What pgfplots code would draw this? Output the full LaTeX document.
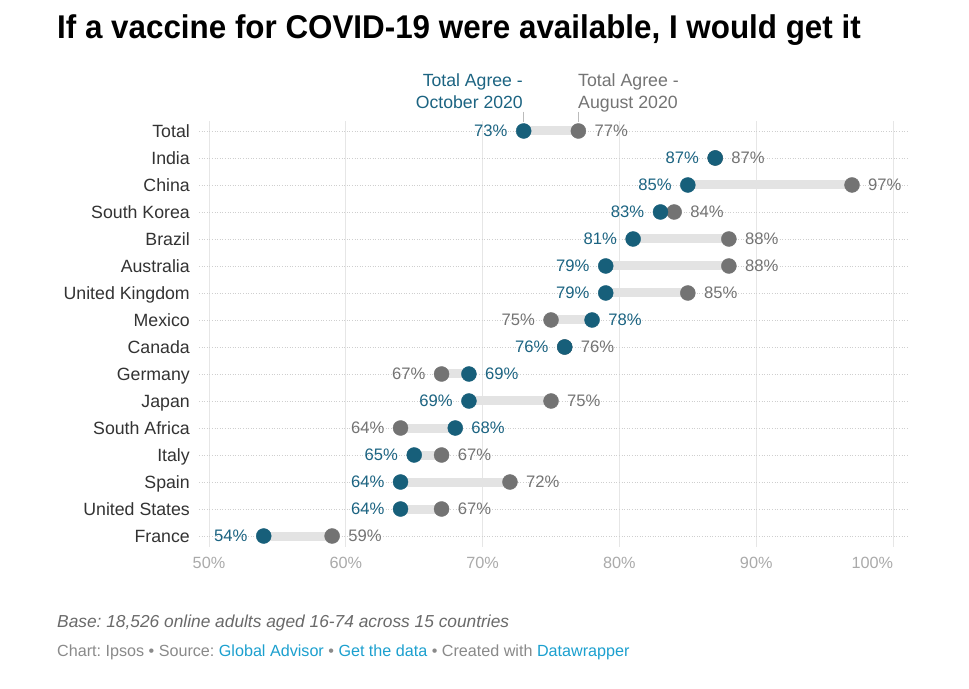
\documentclass[border=0pt]{standalone}
\usepackage{pgfplots}
\pgfplotsset{compat=1.18}
\usepackage{fontspec}
\setmainfont{Liberation Sans}
\frenchspacing
\definecolor{darkc}{HTML}{175F7A}
\definecolor{darklab}{HTML}{1C6482}
\definecolor{greyc}{HTML}{737373}
\definecolor{greylab}{HTML}{747474}
\definecolor{barc}{HTML}{E3E3E3}
\definecolor{vgrid}{HTML}{E6E6E6}
\definecolor{hgrid}{HTML}{CFCFCF}
\definecolor{rowlab}{HTML}{333333}
\definecolor{ticklab}{HTML}{AAAAAA}
\definecolor{foot}{HTML}{6A6A6A}
\definecolor{foot2}{HTML}{8A8A8A}
\definecolor{linkc}{HTML}{1CA0CF}
\definecolor{hdrline}{HTML}{BBBBBB}
\begin{document}
\begin{tikzpicture}
\fill[white] (0,0) rectangle (969bp,689bp);
\begin{axis}[
  at={(199bp,142bp)}, anchor=south west,
  scale only axis, width=708bp, height=426bp,
  xmin=49.27, xmax=101.02,
  ymin=-0.407, ymax=15.37,
  clip=false,
  axis line style={draw=none},
  tick style={draw=none},
  major tick length=0pt,
  xtick={50,60,70,80,90,100},
  xticklabels={50\%,60\%,70\%,80\%,90\%,\llap{100\%}},
  ytick={0,...,15},
  yticklabels={France,United States,Spain,Italy,South Africa,Japan,Germany,Canada,Mexico,United Kingdom,Australia,Brazil,South Korea,China,India,Total},
  xmajorgrids, ymajorgrids,
  x grid style={vgrid, line width=0.8bp},
  y grid style={hgrid, line width=0.6bp, dotted},
  xticklabel style={anchor=base, inner sep=0pt, yshift=-22bp, text=ticklab, font=\fontsize{16.3}{18}\selectfont},
  yticklabel style={anchor=base east, inner sep=0pt, xshift=-9bp, yshift=-6.2bp, text=rowlab, font=\fontsize{17.8}{20}\selectfont},
]
% connecting bars
\addplot[barc, line width=9bp, unbounded coords=jump, forget plot] coordinates {
(73,15) (77,15) (nan,nan)
(85,13) (97,13) (nan,nan)
(83,12) (84,12) (nan,nan)
(81,11) (88,11) (nan,nan)
(79,10) (88,10) (nan,nan)
(79,9) (85,9) (nan,nan)
(75,8) (78,8) (nan,nan)
(67,6) (69,6) (nan,nan)
(69,5) (75,5) (nan,nan)
(64,4) (68,4) (nan,nan)
(65,3) (67,3) (nan,nan)
(64,2) (72,2) (nan,nan)
(64,1) (67,1) (nan,nan)
(54,0) (59,0)
};
% grey dots (August 2020), label on right
\addplot[only marks, mark=*, mark size=7.5bp, color=greyc,
  point meta=explicit symbolic,
  nodes near coords={\pgfplotspointmeta\%},
  nodes near coords style={anchor=west, inner sep=0pt, xshift=16bp, text=greylab, font=\fontsize{16.7}{18}\selectfont}]
coordinates {
(77,15)[77] (87,14)[87] (97,13)[97] (84,12)[84] (88,11)[88] (88,10)[88] (85,9)[85]
(76,7)[76] (75,5)[75] (67,3)[67] (72,2)[72] (67,1)[67] (59,0)[59]
};
% grey dots, label on left
\addplot[only marks, mark=*, mark size=7.5bp, color=greyc,
  point meta=explicit symbolic,
  nodes near coords={\pgfplotspointmeta\%},
  nodes near coords style={anchor=east, inner sep=0pt, xshift=-16bp, text=greylab, font=\fontsize{16.7}{18}\selectfont}]
coordinates {
(75,8)[75] (67,6)[67] (64,4)[64]
};
% dark dots (October 2020), label on left
\addplot[only marks, mark=*, mark size=7.5bp, color=darkc,
  point meta=explicit symbolic,
  nodes near coords={\pgfplotspointmeta\%},
  nodes near coords style={anchor=east, inner sep=0pt, xshift=-16bp, text=darklab, font=\fontsize{16.7}{18}\selectfont}]
coordinates {
(73,15)[73] (87,14)[87] (85,13)[85] (83,12)[83] (81,11)[81] (79,10)[79] (79,9)[79]
(76,7)[76] (69,5)[69] (65,3)[65] (64,2)[64] (64,1)[64] (54,0)[54]
};
% dark dots, label on right
\addplot[only marks, mark=*, mark size=7.5bp, color=darkc,
  point meta=explicit symbolic,
  nodes near coords={\pgfplotspointmeta\%},
  nodes near coords style={anchor=west, inner sep=0pt, xshift=16bp, text=darklab, font=\fontsize{16.7}{18}\selectfont}]
coordinates {
(78,8)[78] (69,6)[69] (68,4)[68]
};
\end{axis}
% title
\node[anchor=base west, inner sep=0pt, font=\fontsize{33}{38}\selectfont\bfseries, text=black] at (57bp,650bp) {\scalebox{0.954}[1]{If a vaccine for COVID-19 were available, I would get it}};
% series headers
\node[anchor=base east, inner sep=0pt, text=darklab, font=\fontsize{17.7}{20}\selectfont] at (523bp,602.3bp) {Total Agree -};
\node[anchor=base east, inner sep=0pt, text=darklab, font=\fontsize{17.7}{20}\selectfont] at (523bp,580.7bp) {October 2020};
\node[anchor=base west, inner sep=0pt, text=greylab, font=\fontsize{17.8}{20}\selectfont] at (578bp,602.3bp) {Total Agree -};
\node[anchor=base west, inner sep=0pt, text=greylab, font=\fontsize{17.8}{20}\selectfont] at (578bp,580.7bp) {August 2020};
\draw[hdrline, line width=1.5bp] (523.3bp,577.3bp) -- (523.3bp,566.5bp);
\draw[hdrline, line width=1.5bp] (578.3bp,577.3bp) -- (578.3bp,566.5bp);
% footer
\node[anchor=base west, inner sep=0pt, text=foot, font=\fontsize{17.4}{20}\selectfont\itshape] at (57bp,61bp) {Base: 18,526 online adults aged 16-74 across 15 countries};
\node[anchor=base west, inner sep=0pt, text=foot2, font=\fontsize{16.2}{18}\selectfont] at (57bp,32.5bp) {Chart: Ipsos • Source: \textcolor{linkc}{Global Advisor} • \textcolor{linkc}{Get the data} • Created with \textcolor{linkc}{Datawrapper}};
\pgfresetboundingbox
\useasboundingbox (0,0) rectangle (969bp,689bp);
\end{tikzpicture}
\end{document}
